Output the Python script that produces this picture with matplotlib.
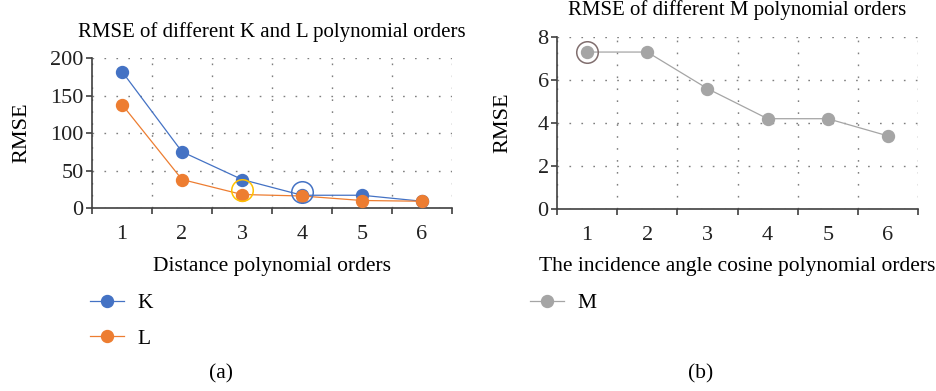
import matplotlib
matplotlib.use("Agg")
import matplotlib.pyplot as plt
from matplotlib.ticker import FixedLocator, NullFormatter, FixedFormatter

plt.rcParams['font.family'] = ['Liberation Serif', 'DejaVu Serif']
plt.rcParams['font.size'] = 15.5

# data
orders = ['1', '2', '3', '4', '5', '6']
rmse_k = [182, 75, 38, 17, 17, 9]
rmse_l = [138, 38, 18, 16, 10, 9]
rmse_m = [7.3, 7.3, 5.6, 4.2, 4.2, 3.4]

# highlighted points (order index, value)
mark_k = (3, 22)
mark_l = (2, 24)
mark_m = (0, 7.3)

c_k = '#4472C4'
c_l = '#ED7D31'
c_m = '#A5A5A5'
axis_c = '#404040'
grid_c = '#7f7f7f'
FS = 15.5
TICK_FS = 16

fig = plt.figure(figsize=(9.36, 3.91), dpi=100)
W, H = 936, 391


def px_axes(x0, y_top, x1, y_bot):
    return fig.add_axes([x0 / W, 1 - y_bot / H, (x1 - x0) / W, (y_bot - y_top) / H])


def style(ax, ymax, ystep):
    n = len(orders)
    x = list(range(n))
    ax.set_xlim(-0.5, n - 0.5)
    ax.set_ylim(0, ymax)
    ax.xaxis.set_major_locator(FixedLocator([i - 0.5 for i in range(n + 1)]))
    ax.xaxis.set_major_formatter(NullFormatter())
    ax.xaxis.set_minor_locator(FixedLocator(x))
    ax.xaxis.set_minor_formatter(FixedFormatter(orders))
    ax.tick_params(axis='x', which='minor', length=0, pad=12, labelsize=TICK_FS)
    ax.tick_params(axis='x', which='major', length=4.5, width=1.2, color=axis_c)
    ax.set_yticks(range(0, ymax + 1, ystep))
    ax.tick_params(axis='y', length=4, width=1.2, color=axis_c, pad=2, labelsize=TICK_FS)
    for s in ['top', 'right']:
        ax.spines[s].set_visible(False)
    for s in ['left', 'bottom']:
        ax.spines[s].set_color(axis_c)
        ax.spines[s].set_linewidth(1.2)
    ax.grid(True, which='major', color=grid_c, linewidth=1.0, linestyle=(0, (1.2, 7.4)))
    ax.set_axisbelow(True)
    ax.set_ylabel('RMSE', fontsize=FS + 0.5, va='center')
    for t in ax.get_xticklabels(minor=True) + ax.get_yticklabels():
        t.set_color('#222222')
    return x


# (a)
ax1 = px_axes(92, 58, 452, 208)
x = style(ax1, 200, 50)
ax1.plot(x, rmse_k, color=c_k, lw=0.9, marker='o', ms=8.6, label='K', clip_on=False, zorder=3)
ax1.plot(x, rmse_l, color=c_l, lw=0.9, marker='o', ms=8.6, label='L', clip_on=False, zorder=3)
ax1.plot(*mark_k, marker='o', ms=15.5, mfc='none', mec=c_k, mew=1.1, clip_on=False, zorder=4)
ax1.plot(*mark_l, marker='o', ms=15.5, mfc='none', mec='#FFC000', mew=1.1, clip_on=False, zorder=4)
ax1.text(0.5, 1 + 26 / 150, 'RMSE of different K and L polynomial orders',
         transform=ax1.transAxes, ha='center', va='center', fontsize=15)
ax1.yaxis.set_label_coords(-70 / 360, 0.5)
ax1.set_xlabel('Distance polynomial orders', fontsize=FS, va='center')
ax1.xaxis.set_label_coords(0.5, -59 / 150)
ax1.legend(loc='upper left', bbox_to_anchor=(90 / W, 1 - 293 / H), bbox_transform=fig.transFigure,
           frameon=False, borderpad=0, borderaxespad=0, handlelength=1.6, handletextpad=0.6,
           labelspacing=0.72, fontsize=FS)

# (b)
ax2 = px_axes(557, 37, 918, 209)
x = style(ax2, 8, 2)
ax2.plot(x, rmse_m, color=c_m, lw=0.9, marker='o', ms=8.6, label='M', clip_on=False, zorder=3)
ax2.plot(*mark_m, marker='o', ms=15.5, mfc='none', mec='#806e6e', mew=1.1, clip_on=False, zorder=4)
ax2.text(0.5, 1 + 27 / 172, 'RMSE of different M polynomial orders',
         transform=ax2.transAxes, ha='center', va='center', fontsize=15)
ax2.yaxis.set_label_coords(-54 / 361, 0.5)
ax2.set_xlabel('The incidence angle cosine polynomial orders', fontsize=FS, va='center')
ax2.xaxis.set_label_coords(0.5, -58 / 172)
ax2.legend(loc='upper left', bbox_to_anchor=(530 / W, 1 - 293 / H), bbox_transform=fig.transFigure,
           frameon=False, borderpad=0, borderaxespad=0, handlelength=1.6, handletextpad=0.6,
           fontsize=FS)

fig.text(221 / W, 1 - 374 / H, '(a)', ha='center', va='center', fontsize=FS)
fig.text(701 / W, 1 - 374 / H, '(b)', ha='center', va='center', fontsize=FS)

fig.savefig('out.png', dpi=100)
